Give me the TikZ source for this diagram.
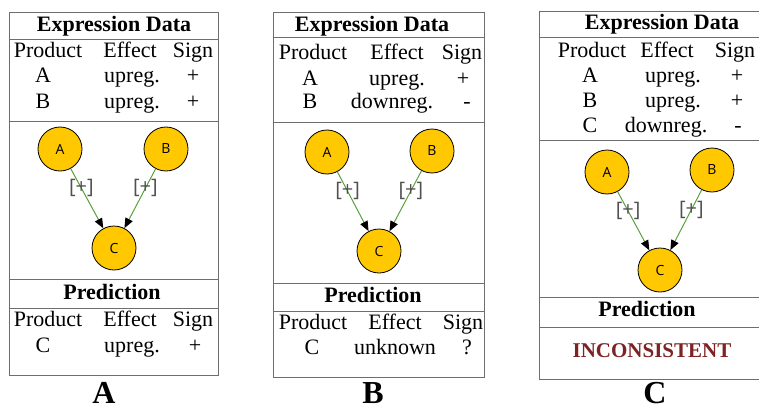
\documentclass[tikz,border=0pt]{standalone}
\usepackage{fontspec}
\setmainfont{Liberation Serif}
\newfontfamily\genefont{Open Sans}
\usepackage{xcolor}
\usetikzlibrary{arrows.meta}
\definecolor{GeneGold}{RGB}{255,200,0}
\definecolor{EdgeGreen}{RGB}{90,160,60}
\definecolor{FrameGray}{RGB}{110,110,110}
\definecolor{SignGray}{RGB}{80,80,80}
\definecolor{ClashRed}{RGB}{125,35,35}

\begin{document}
\begin{tikzpicture}[
  x=1pt, y=-1pt,
  every node/.style={inner sep=0pt},
  frame/.style={draw=FrameGray, line width=1pt},
  head/.style={anchor=base, font=\fontsize{22}{24}\selectfont\bfseries},
  cell/.style={anchor=base, font=\fontsize{22}{24}\selectfont},
  gene/.style={circle, draw=black, line width=0.8pt, fill=GeneGold, minimum size=44pt, font=\genefont\fontsize{14}{15}\selectfont},
  infl/.style={draw=EdgeGreen, line width=1pt, -{Triangle[black, length=10pt, width=8pt]}},
  sgn/.style={pos=0.33, font=\genefont\fontsize{20}{21}\selectfont, text=SignGray},
  panel/.style={anchor=base, font=\fontsize{32}{34}\selectfont\bfseries}
]
  \useasboundingbox (0,0) rectangle (759,409);

  % Panel A
  \draw[frame] (9,13) rectangle (218,375);
  \foreach \y in {40,121,279,308} \draw[frame] (9,\y) -- (218,\y);
  \node[head] (xa) at (114,32) {Expression Data};
  \foreach \x/\y/\t [count=\i] in {48/58/Product, 130/58/Effect, 193/58/Sign,
      43/83/A, 132/83/upreg., 193/83/+, 43/108/B, 132/108/upreg., 193/108/+}
    \node[cell] (ea\i) at (\x,\y) {\t};
  \node[gene] (aa) at (60,149) {A};
  \node[gene] (ab) at (166,149) {B};
  \node[gene] (ac) at (114,248) {C};
  \draw[infl] (aa) -- node[sgn] (sa1) {[+]} (ac);
  \draw[infl] (ab) -- node[sgn] (sa2) {[+]} (ac);
  \node[head] (pa) at (112,299) {Prediction};
  \foreach \x/\y/\t [count=\i] in {48/326/Product, 130/326/Effect, 193/326/Sign,
      43/352/C, 132/352/upreg., 195/352/+}
    \node[cell] (qa\i) at (\x,\y) {\t};
  \node[panel] (la) at (104,403) {A};

  % Panel B
  \draw[frame] (273,13) rectangle (484,377);
  \foreach \y in {38,122,283,311} \draw[frame] (273,\y) -- (484,\y);
  \node[head] (xb) at (372,32) {Expression Data};
  \foreach \x/\y/\t [count=\i] in {313/60/Product, 397/60/Effect, 462/60/Sign,
      310/85/A, 397/85/upreg., 463/85/+, 310/108/B, 392/108/downreg., 467/108/-}
    \node[cell] (eb\i) at (\x,\y) {\t};
  \node[gene] (ba) at (327,152) {A};
  \node[gene] (bb) at (432,151) {B};
  \node[gene] (bc) at (379,251) {C};
  \draw[infl] (ba) -- node[sgn] (sb1) {[+]} (bc);
  \draw[infl] (bb) -- node[sgn] (sb2) {[+]} (bc);
  \node[head] (pb) at (373,302) {Prediction};
  \foreach \x/\y/\t [count=\i] in {313/329/Product, 395/329/Effect, 463/329/Sign,
      312/354/C, 395/354/unknown, 467/354/?}
    \node[cell] (qb\i) at (\x,\y) {\t};
  \node[panel] (lb) at (373,403) {B};

  % Panel C
  \draw[frame] (539,12) rectangle (764,379);
  \foreach \y in {38,140,297,327} \draw[frame] (539,\y) -- (764,\y);
  \node[head] (xc) at (662,30) {Expression Data};
  \foreach \x/\y/\t [count=\i] in {592/58/Product, 667/58/Effect, 735/58/Sign,
      590/83/A, 673/83/upreg., 737/83/+, 590/107/B, 673/107/upreg., 737/107/+,
      590/132/C, 666/132/downreg., 738/132/-}
    \node[cell] (ec\i) at (\x,\y) {\t};
  \node[gene] (ca) at (607,172) {A};
  \node[gene] (cb) at (712,170) {B};
  \node[gene] (cc) at (660,270) {C};
  \draw[infl] (ca) -- node[sgn] (sc1) {[+]} (cc);
  \draw[infl] (cb) -- node[sgn] (sc2) {[+]} (cc);
  \node[head] (pc) at (647,316) {Prediction};
  \node[head, text=ClashRed, font=\fontsize{21}{24}\selectfont\bfseries] (ic) at (652,357) {INCONSISTENT};
  \node[panel] (lc) at (655,403) {C};
\end{tikzpicture}
\end{document}
